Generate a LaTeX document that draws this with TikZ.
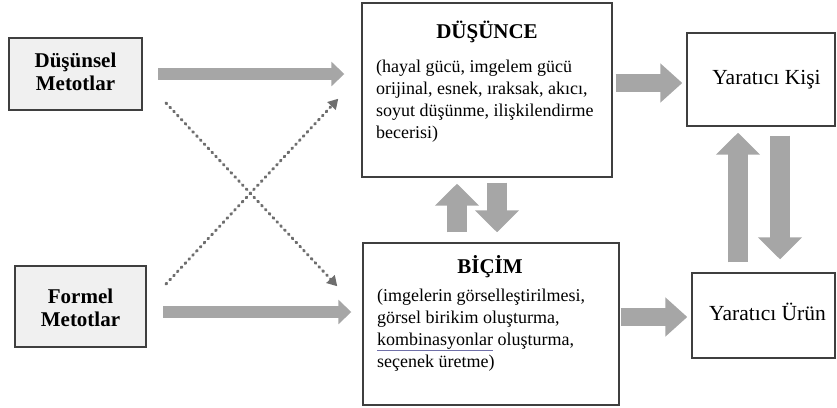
\documentclass[tikz,border=0pt]{standalone}
\usepackage{fontspec}
\setmainfont{Liberation Serif}
\usetikzlibrary{arrows.meta}
\definecolor{okgri}{HTML}{A6A6A6}
\definecolor{noktagri}{HTML}{6E6E6E}
\definecolor{kenar}{HTML}{3F3F3F}
\definecolor{zemin}{HTML}{F0F0F0}
\definecolor{altcizgi}{HTML}{7070A8}
\tikzset{
  kutu/.style={draw=kenar, line width=1.4pt, inner sep=0pt},
  yontem/.style={kutu, fill=zemin, line width=2pt},
  baslik/.style={font=\fontsize{21}{23}\selectfont\bfseries, align=center, inner sep=0pt},
  metin/.style={font=\fontsize{18}{21.8}\selectfont, align=left, anchor=north west, inner sep=0pt},
  blokok/.style n args={3}{draw=okgri, line width=#1, -{Triangle[width=#2,length=#3]}},
  noktali/.style={draw=noktagri, line width=3pt, line cap=round, dash pattern=on 1pt off 4.6pt,
    -{Triangle[width=11pt,length=10pt]}}
}
\begin{document}
\begin{tikzpicture}[x=1pt,y=-1pt]
    \useasboundingbox (0,0) rectangle (837,407);
    % 方法
    \node[yontem, minimum width=133, minimum height=72] (dusunsel) at (75.5,74) {};
    \node[yontem, minimum width=131, minimum height=81] (formel) at (80.5,306.5) {};
    \node[baslik] (dusunselYazi) at (75.5,72) {Düşünsel\\Metotlar};
    \node[baslik] (formelYazi) at (80.5,308) {Formel\\Metotlar};

    % 中间的两个框
    \node[kutu, minimum width=250, minimum height=174] (dusunce) at (487,90) {};
    \node[kutu, minimum width=256, minimum height=162] (bicim) at (491,324) {};
    \node[baslik] (dusunceBaslik) at (487,32) {DÜŞÜNCE};
    \node[metin] (dusunceMetin) at (376,60) {(hayal gücü, imgelem gücü\\orijinal, esnek, ıraksak, akıcı,\\soyut düşünme, ilişkilendirme\\becerisi)};
    \node[baslik] (bicimBaslik) at (490,267) {BİÇİM};
    \node[metin] (bicimMetin) at (377,289) {(imgelerin görselleştirilmesi,\\görsel birikim oluşturma,\\{\color{altcizgi}\underline{\color{black}kombinasyonlar}} oluşturma,\\seçenek üretme)};

    % 右边
    \node[kutu, minimum width=148, minimum height=93] (kisi) at (761,79.5) {};
    \node[kutu, minimum width=143, minimum height=85] (urun) at (763.5,315.5) {};
    \node[font=\fontsize{21.5}{24}\selectfont, inner sep=0pt] (kisiYazi) at (766.5,80) {Yaratıcı Kişi};
    \node[font=\fontsize{21.5}{24}\selectfont, inner sep=0pt] (urunYazi) at (767.5,312) {Yaratıcı Ürün};

    % 粗箭头
    \draw[blokok={12pt}{24pt}{13pt}, shorten <=15pt, shorten >=17pt] (dusunsel.east) -- (dusunsel.east -| dusunce.west);
    \draw[blokok={12pt}{24pt}{13pt}, shorten <=16pt, shorten >=11pt] ([yshift=-5.5pt]formel.east) -- ([yshift=-5.5pt]formel.east -| bicim.west);
    \draw[blokok={18pt}{38pt}{22pt}, shorten <=3pt, shorten >=4pt] ([yshift=7pt]dusunce.east) -- ([yshift=7pt]dusunce.east -| kisi.west);
    \draw[blokok={18pt}{38pt}{22pt}, shorten <=1pt, shorten >=4pt] ([yshift=7pt]bicim.east) -- ([yshift=7pt]bicim.east -| urun.west);
    \draw[blokok={20pt}{43pt}{22pt}, shorten <=10pt, shorten >=6pt] ([xshift=-30pt]bicim.north -| dusunce.south) -- ([xshift=-30pt]dusunce.south);
    \draw[blokok={20pt}{43pt}{22pt}, shorten <=5pt, shorten >=10pt] ([xshift=10pt]dusunce.south) -- ([xshift=10pt]bicim.north -| dusunce.south);
    \draw[blokok={20pt}{43pt}{22pt}, shorten <=10pt, shorten >=6pt] ([xshift=-23pt]urun.north -| kisi.south) -- ([xshift=-23pt]kisi.south);
    \draw[blokok={20pt}{43pt}{22pt}, shorten <=9pt, shorten >=13pt] ([xshift=19pt]kisi.south) -- ([xshift=19pt]urun.north -| kisi.south);

    % 虚线
    \draw[noktali] ([shift={(23pt,8pt)}]dusunsel.south east) -- ([shift={(-25pt,-44pt)}]bicim.north west);
    \draw[noktali] ([shift={(19pt,-19pt)}]formel.north east) -- ([shift={(-23pt,79pt)}]dusunce.south west);
\end{tikzpicture}
\end{document}
